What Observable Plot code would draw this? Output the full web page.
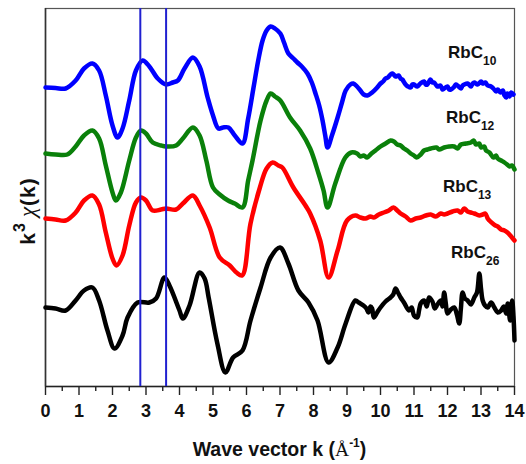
<!DOCTYPE html>
<html>
<head>
<meta charset="utf-8">
<script src="https://cdn.jsdelivr.net/npm/d3@7"></script>
<script src="https://cdn.jsdelivr.net/npm/@observablehq/plot@0.6"></script>
<style>
  html, body { margin: 0; padding: 0; background: #fff; }
  svg { font-family: "Liberation Sans", Arial, sans-serif; }
</style>
</head>
<body>
<div id="chart"></div>
<script>
// [k (1/Å), k^3 chi(k) (offset, arbitrary units)]
const rbc10 = [[0,299],[0.3,298.5],[0.6,298],[0.9,306],[1.15,318],[1.4,323],[1.6,316],[1.8,291],[2.0,261],[2.15,249],[2.3,258],[2.5,286],[2.7,316],[2.9,326],[3.1,320],[3.35,308],[3.6,302],[3.8,304],[3.95,306],[4.15,318],[4.4,329],[4.6,320],[4.84,289],[5.0,271],[5.16,258],[5.3,259],[5.46,259],[5.65,251],[5.88,243],[6.05,268],[6.21,299],[6.35,326],[6.48,346],[6.6,356],[6.72,360],[6.85,358],[7.01,353],[7.12,344],[7.25,333],[7.4,328],[7.52,324],[7.65,320],[7.82,313],[7.95,304],[8.06,293],[8.17,281],[8.27,266],[8.35,251],[8.42,239],[8.55,251],[8.72,269],[8.85,284],[8.96,296],[9.1,302],[9.19,303],[9.3,300],[9.4,296],[9.5,292],[9.61,291],[9.75,294],[9.9,299],[10.0,303],[10.08,305],[10.15,308],[10.22,309],[10.3,312],[10.36,313],[10.45,310],[10.54,311],[10.6,308],[10.65,307],[10.75,302],[10.82,300],[10.9,299],[10.95,302],[11.0,302],[11.1,300],[11.19,303],[11.3,305],[11.35,302],[11.4,302],[11.49,307],[11.55,304],[11.6,304],[11.7,300],[11.79,301],[11.85,297],[11.9,298],[12.0,300],[12.05,297],[12.1,297],[12.18,299],[12.25,302],[12.3,301],[12.4,298],[12.45,301],[12.5,302],[12.6,303],[12.7,300],[12.75,303],[12.8,304],[12.9,302],[13.0,305],[13.05,303],[13.13,304],[13.2,301],[13.3,300],[13.37,298],[13.45,295],[13.5,297],[13.58,294],[13.65,296],[13.7,291],[13.75,289],[13.79,293],[13.85,290],[13.9,294],[13.97,292]];
const rbc12 = [[0,233],[0.3,232],[0.65,232],[0.9,240],[1.15,251],[1.4,256],[1.6,248],[1.8,221],[2.0,194],[2.1,186],[2.25,194],[2.5,226],[2.7,249],[2.85,256],[3.0,253],[3.2,244],[3.45,241],[3.6,240],[3.9,241],[4.1,248],[4.4,259],[4.6,251],[4.8,226],[5.0,199],[5.2,192],[5.45,186],[5.65,183],[5.88,179],[6.05,206],[6.18,226],[6.42,266],[6.6,286],[6.72,293],[6.85,290],[7.01,286],[7.3,269],[7.6,256],[7.9,238],[8.15,213],[8.3,196],[8.42,179],[8.65,203],[8.95,229],[9.13,234],[9.3,233],[9.4,230],[9.5,231],[9.6,229],[9.7,232],[9.85,236],[10.0,240],[10.15,243],[10.3,246],[10.4,245],[10.5,242],[10.6,241],[10.7,238],[10.8,236],[10.9,233],[11.0,231],[11.08,229],[11.2,232],[11.3,236],[11.4,237],[11.5,238],[11.67,239],[11.75,237],[11.9,239],[12.05,240],[12.2,240],[12.3,238],[12.4,242],[12.55,243],[12.7,244],[12.78,246],[12.85,242],[12.95,243],[13.0,239],[13.1,240],[13.15,236],[13.25,234],[13.37,229],[13.45,231],[13.5,228],[13.6,226],[13.7,224],[13.78,222],[13.85,220],[13.92,221],[14.0,217]];
const rbc13 = [[0,168],[0.3,167],[0.6,166],[0.9,174],[1.15,186],[1.4,191],[1.6,182],[1.8,154],[2.0,128],[2.12,121],[2.3,131],[2.5,161],[2.7,184],[2.85,189],[3.0,186],[3.2,176],[3.45,177],[3.6,178],[3.9,177],[4.1,183],[4.4,191],[4.6,181],[4.9,159],[5.2,129],[5.5,121],[5.7,114],[5.87,111],[6.12,163],[6.4,199],[6.6,218],[6.78,224],[6.95,221],[7.07,219],[7.4,199],[7.76,181],[7.9,173],[8.2,146],[8.45,109],[8.72,136],[9.0,166],[9.25,171],[9.4,169],[9.55,168],[9.7,170],[9.8,169],[9.95,172],[10.1,174],[10.25,176],[10.39,179],[10.5,176],[10.6,173],[10.75,170],[10.9,166],[11.05,168],[11.2,169],[11.35,171],[11.5,172],[11.65,170],[11.8,173],[11.9,172],[12.0,173],[12.15,175],[12.3,176],[12.4,174],[12.5,178],[12.6,175],[12.7,174],[12.8,173],[12.95,171],[13.05,172],[13.13,173],[13.2,168],[13.25,166],[13.35,163],[13.43,161],[13.5,160],[13.6,157],[13.7,156],[13.79,154],[13.9,150],[14.0,146]];
const rbc26 = [[0,79],[0.3,78],[0.6,76],[0.9,86],[1.15,96],[1.4,99],[1.6,86],[1.85,56],[2.06,38],[2.3,51],[2.45,69],[2.75,84],[3.1,84],[3.3,88],[3.55,109],[3.7,101],[4.0,76],[4.1,68],[4.3,81],[4.6,114],[4.75,108],[4.87,89],[5.13,43],[5.37,14],[5.6,29],[5.88,36],[6.12,66],[6.42,99],[6.72,129],[7.0,139],[7.25,123],[7.55,96],[7.85,84],[8.12,66],[8.45,24],[8.72,39],[8.96,63],[9.25,86],[9.35,84],[9.49,81],[9.58,78],[9.64,74],[9.7,80],[9.75,78],[9.8,69],[9.9,74],[10.0,79],[10.15,85],[10.3,89],[10.38,92],[10.45,98],[10.52,94],[10.6,89],[10.7,84],[10.85,76],[10.93,79],[11.0,71],[11.1,69],[11.15,76],[11.2,83],[11.3,86],[11.38,80],[11.45,89],[11.55,85],[11.62,78],[11.7,82],[11.8,86],[11.85,80],[11.9,94],[11.95,83],[12.0,73],[12.1,77],[12.2,79],[12.28,72],[12.35,63],[12.4,78],[12.45,94],[12.52,88],[12.6,86],[12.7,82],[12.8,89],[12.88,94],[12.95,113],[13.0,98],[13.05,86],[13.12,81],[13.2,79],[13.3,84],[13.4,79],[13.5,74],[13.6,76],[13.68,80],[13.75,73],[13.8,83],[13.87,66],[13.93,86],[13.97,70],[14.0,46]];

const markerK = [2.83, 3.60];
const xTicks = [0,1,2,3,4,5,6,7,8,9,10,11,12,13,14];
const xMinorTicks = [0.5,1.5,2.5,3.5,4.5,5.5,6.5,7.5,8.5,9.5,10.5,11.5,12.5,13.5];

const seriesNames = ["RbC", "RbC", "RbC", "RbC"];
const seriesSubs = ["10", "12", "13", "26"];
const seriesColors = ["#0000ff", "#0a800a", "#ff0000", "#000000"];
const labelK = [12.03, 11.97, 11.88, 12.12];
const labelV = [328, 263, 194, 128];

const series = [rbc10, rbc12, rbc13, rbc26];

const lineMarks = series.map((s, i) =>
  Plot.line(s, {x: d => d[0], y: d => d[1], stroke: seriesColors[i], strokeWidth: 4.5,
    curve: "catmull-rom", strokeLinejoin: "round", strokeLinecap: "round"}));

const plot = Plot.plot({
  width: 526,
  height: 464,
  marginLeft: 45,
  marginRight: 12,
  marginTop: 8,
  marginBottom: 78,
  style: {fontFamily: '"Liberation Sans", Arial, sans-serif', background: "#fff"},
  x: {domain: [0, 14], label: null},
  y: {domain: [0, 378], axis: null},
  marks: [
    Plot.frame({stroke: "#555", strokeWidth: 1.2}),
    Plot.ruleY([0], {stroke: "#222", strokeWidth: 1.6}),
    Plot.ruleX([0], {stroke: "#333", strokeWidth: 1.6}),
    ...lineMarks,
    Plot.ruleX(markerK, {stroke: "#2020d0", strokeWidth: 2}),
    Plot.axisX(xMinorTicks, {tickSize: 5, text: null, stroke: "#222", strokeWidth: 1.4}),
    Plot.axisX(xTicks, {tickSize: 9, tickPadding: 9, fontSize: 18, fontWeight: "bold",
      fill: "#111", stroke: "#222", strokeWidth: 1.4, tickFormat: d => String(d)})
  ]
});

document.getElementById("chart").appendChild(plot);

const svg = d3.select(plot);
const sx = plot.scale("x"), sy = plot.scale("y");

// series labels
seriesNames.forEach((name, i) => {
  const t = svg.append("text")
    .attr("x", sx.apply(labelK[i]))
    .attr("y", sy.apply(labelV[i]))
    .attr("text-anchor", "start")
    .attr("font-size", 17)
    .attr("font-weight", "bold")
    .attr("fill", "#111");
  t.append("tspan").text(name);
  t.append("tspan").attr("font-size", 12).attr("dy", 7).text(seriesSubs[i]);
});

// y label
const yl = svg.append("text")
  .attr("transform", "translate(35,211) rotate(-90)")
  .attr("text-anchor", "middle")
  .attr("fill", "#111")
  .attr("letter-spacing", 1)
  .attr("font-size", 21);
yl.append("tspan").attr("font-weight", "bold").text("k");
yl.append("tspan").attr("font-weight", "bold").attr("font-size", 16).attr("dy", -10).text("3");
yl.append("tspan").attr("dy", 10).attr("dx", 5).attr("font-family", '"Liberation Serif", serif').attr("font-style", "italic").attr("font-size", 23).text("χ");
yl.append("tspan").attr("font-weight", "bold").text("(k)");

// x label
const xl = svg.append("text")
  .attr("x", sx.apply(7))
  .attr("y", 456)
  .attr("text-anchor", "middle")
  .attr("fill", "#111")
  .attr("font-size", 19.5)
  .attr("font-weight", "bold");
xl.append("tspan").text("Wave vector k (");
xl.append("tspan").attr("font-family", '"Liberation Serif", serif').attr("font-weight", "normal").text("Å");
xl.append("tspan").attr("font-size", 12).attr("dy", -9).text("-1");
xl.append("tspan").attr("dy", 9).text(")");
</script>
</body>
</html>
